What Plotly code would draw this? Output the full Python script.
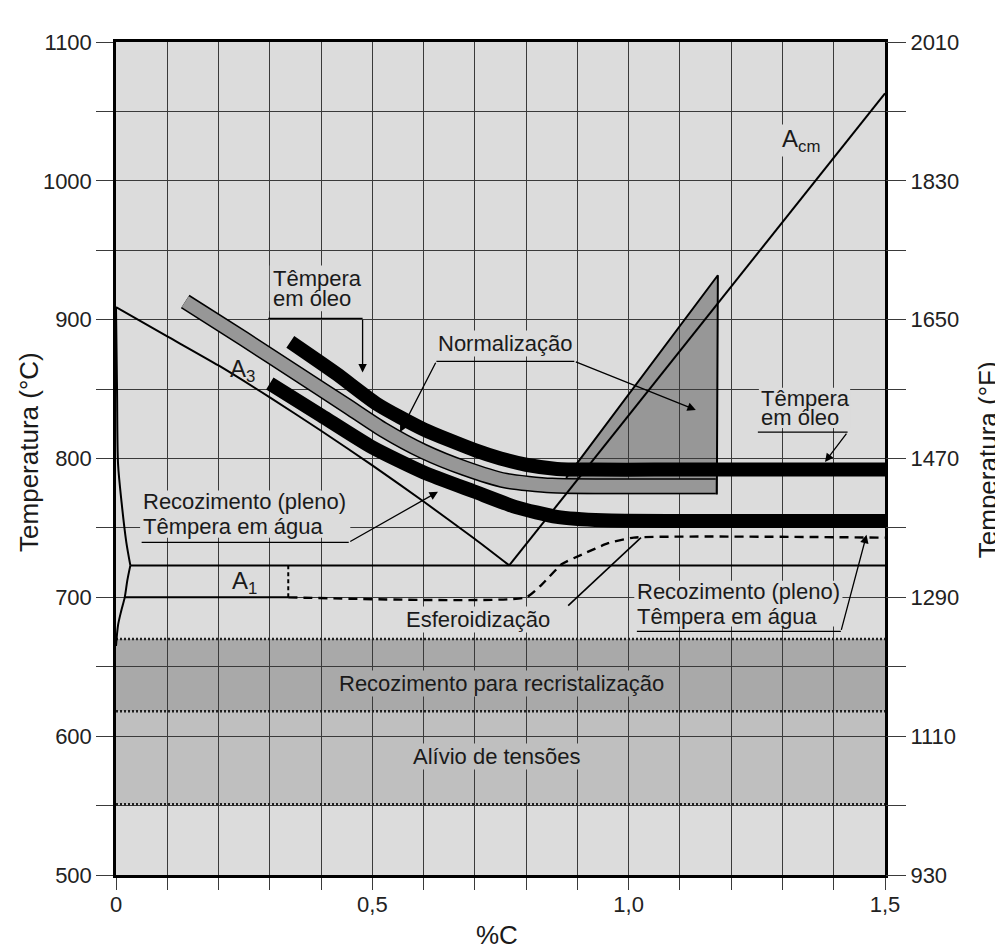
import plotly.graph_objects as go

# ---------------- data ----------------
# Axis ticks
x_tickvals = [0.0, 0.1, 0.2, 0.3, 0.4, 0.5, 0.6, 0.7, 0.8, 0.9, 1.0, 1.1, 1.2, 1.3, 1.4, 1.5]
x_ticktext = ["0", "", "", "", "", "0,5", "", "", "", "", "1,0", "", "", "", "", "1,5"]
y_tickvals = [500, 550, 600, 650, 700, 750, 800, 850, 900, 950, 1000, 1050, 1100]
y_ticktext_C = ["500", "", "600", "", "700", "", "800", "", "900", "", "1000", "", "1100"]
y_ticktext_F = ["930", "", "1110", "", "1290", "", "1470", "", "1650", "", "1830", "", "2010"]

# Phase boundaries
A3_x = [0.0, 0.1, 0.2, 0.3, 0.4, 0.5, 0.6, 0.7, 0.767]
A3_T = [909, 888, 867, 844, 820, 795, 769, 742, 723]
Acm_x = [0.767, 1.5]
Acm_T = [723, 1063]
alpha_x = [0.0, 0.002, 0.004, 0.011, 0.02, 0.028]
alpha_T = [909, 850, 796, 768, 740, 723]
solvus_x = [0.028, 0.022, 0.017, 0.010, 0.004, 0.0]
solvus_T = [723, 712, 700, 690, 680, 665]
A1_x = [0.028, 1.5]
A1_T = [723, 723]
A1low_x = [0.017, 0.336]
A1low_T = [700, 700]
A1vert_x = [0.336, 0.336]
A1vert_T = [700, 723]
sphero_x = [0.336, 0.80, 0.83, 0.87, 0.91, 0.96, 1.01, 1.5]
sphero_T = [700, 700, 709, 724, 731, 739, 743, 743]

# Heat-treatment bands (centre lines)
oil_x = [0.34, 0.43, 0.51, 0.60, 0.70, 0.75, 0.80, 0.86, 0.93, 1.05, 1.5]
oil_T = [884, 861, 839, 821, 806, 800, 795.5, 792.5, 792, 792, 792]
norm_x = [0.135, 0.25, 0.35, 0.45, 0.52, 0.60, 0.68, 0.76, 0.85, 0.95, 1.17]
norm_T = [913, 886, 862, 838, 821, 805, 793, 784, 780.5, 780, 780]
water_x = [0.30, 0.40, 0.50, 0.60, 0.70, 0.78, 0.86, 0.95, 1.1, 1.5]
water_T = [854, 831, 808, 790, 776, 765, 758, 755.5, 755, 755]
tri_x = [0.878, 1.174, 1.172]
tri_T = [786, 932, 774]

# Horizontal treatment ranges
recryst_T = [618, 670]
stress_T = [551, 618]
range_x = [0.0, 1.5]

# Leader lines (underline segments) and arrow tips
oilL_line_x, oilL_line_T, oilL_tip = [0.297, 0.481], [901, 901], (0.481, 862)
normL_line_x, normL_line_T = [0.625, 0.894], [870, 870]
norm_tip1, norm_tip2 = (0.554, 819), (1.131, 835)
oilR_line_x, oilR_line_T, oilR_tip = [1.252, 1.427], [819, 819], (1.383, 797.5)
watL_line_x, watL_line_T, watL_tip = [0.05, 0.454], [739.6, 739.6], (0.628, 776)
watR_line_x, watR_line_T, watR_tip = [1.016, 1.414], [675.5, 675.5], (1.464, 745)
spher_ptr_x, spher_ptr_T = [0.882, 1.024], [694, 743]

# ---------------- styling ----------------
FONT = "Liberation Sans, Arial, Helvetica, sans-serif"
BG = "#dcdcdc"
RECRYST = "#a9a9a9"
STRESS = "#bfbfbf"
GRAYBAND = "#979797"
GRID = "#3a3a3a"

fig = go.Figure()


def line(x, y, color="black", width=2.0, dash="solid", shape="linear", smoothing=1.0):
    fig.add_trace(go.Scatter(
        x=x, y=y, mode="lines",
        line=dict(color=color, width=width, dash=dash, shape=shape, smoothing=smoothing),
        hoverinfo="skip", showlegend=False))


# band range boundaries (dotted)
for T in [recryst_T[1], recryst_T[0], stress_T[0]]:
    line(range_x, [T, T], color="#1e1e1e", width=2.6, dash="2px,2px")

# phase boundaries
line(A3_x, A3_T, width=2, shape="spline", smoothing=0.6)
line(alpha_x, alpha_T, width=2, shape="spline", smoothing=0.8)
line(solvus_x, solvus_T, width=2, shape="spline", smoothing=0.8)
line(A1_x, A1_T, width=2)
line(A1low_x, A1low_T, width=2)
line(A1vert_x, A1vert_T, width=2, dash="4px,3px")
line(sphero_x, sphero_T, width=2.4, dash="9px,6px", shape="spline", smoothing=0.5)
line(spher_ptr_x, spher_ptr_T, width=1.6)

# normalising band (outlined grey)
line(norm_x, norm_T, color="black", width=16, shape="spline", smoothing=0.6)
line(norm_x, norm_T, color=GRAYBAND, width=13, shape="spline", smoothing=0.6)

# triangle outline (fill drawn as shape below grid)
line(tri_x, tri_T, color="black", width=2)

# Acm line
line(Acm_x, Acm_T, width=2)

# black bands
line(oil_x, oil_T, color="black", width=14, shape="spline", smoothing=0.6)
line(water_x, water_T, color="black", width=14, shape="spline", smoothing=0.6)

# leader lines
for lx, lt in [(oilL_line_x, oilL_line_T), (normL_line_x, normL_line_T), (oilR_line_x, oilR_line_T),
               (watL_line_x, watL_line_T), (watR_line_x, watR_line_T)]:
    line(lx, lt, width=1.3)

# dummy trace for right axis
fig.add_trace(go.Scatter(x=[0], y=[500], yaxis="y2", mode="markers", marker=dict(opacity=0),
                         hoverinfo="skip", showlegend=False))

# shapes: ranges and triangle fill (below grid)
shapes = [
    dict(type="rect", xref="x", yref="y", x0=range_x[0], x1=range_x[1], y0=recryst_T[0], y1=recryst_T[1],
         fillcolor=RECRYST, line=dict(width=0), layer="below"),
    dict(type="rect", xref="x", yref="y", x0=range_x[0], x1=range_x[1], y0=stress_T[0], y1=stress_T[1],
         fillcolor=STRESS, line=dict(width=0), layer="below"),
]
tri_path = "M {},{} L {},{} L {},{} L {},{} Z".format(tri_x[0], tri_T[0], tri_x[1], tri_T[1],
                                                     tri_x[2], tri_T[2], tri_x[0], tri_T[2])
shapes.append(dict(type="path", xref="x", yref="y", path=tri_path, fillcolor=GRAYBAND,
                   line=dict(width=0), layer="below"))

# background patches that hide the grid behind two-line labels (drawn under the traces)
for bx0, bx1, by0, by1 in [(0.300, 0.478, 906, 939), (1.254, 1.432, 822, 851),
                           (0.047, 0.457, 743, 777), (1.011, 1.417, 679, 712)]:
    shapes.append(dict(type="rect", xref="x", yref="y", x0=bx0, x1=bx1, y0=by0, y1=by1,
                       fillcolor=BG, line=dict(width=0), layer="between"))

ann = []


def text(t, x, y, xanchor="center", bg=BG, size=22):
    ann.append(dict(text=t, x=x, y=y, xref="x", yref="y", xanchor=xanchor, yanchor="middle",
                    showarrow=False, font=dict(family=FONT, size=size, color="#1a1a1a"),
                    bgcolor=bg, borderpad=0))


def arrow(tail, tip):
    ann.append(dict(text="", x=tip[0], y=tip[1], ax=tail[0], ay=tail[1], xref="x", yref="y",
                    axref="x", ayref="y", showarrow=True, arrowhead=2, arrowsize=1.3,
                    arrowwidth=1.3, arrowcolor="black", standoff=0))


CLEAR = "rgba(0,0,0,0)"
text("Têmpera", 0.304, 930, "left", bg=CLEAR)
text("em óleo", 0.304, 915, "left", bg=CLEAR)
text("Normalização", 0.76, 882.6)
text("Têmpera", 1.257, 843, "left", bg=CLEAR)
text("em óleo", 1.257, 829.7, "left", bg=CLEAR)
text("Recozimento (pleno)", 0.05, 768.8, "left", bg=CLEAR)
text("Têmpera em água", 0.05, 750.8, "left", bg=CLEAR)
text("Recozimento (pleno)", 1.015, 704.2, "left", bg=CLEAR)
text("Têmpera em água", 1.015, 686.5, "left", bg=CLEAR)
text("Esferoidização", 0.707, 683.7)
text("Recozimento para recristalização", 0.752, 637.8, bg=RECRYST)
text("Alívio de tensões", 0.744, 585.6, bg=STRESS)
text("A<sub>3</sub>", 0.247, 863.5, bg=CLEAR, size=24)
text("A<sub>1</sub>", 0.25, 711, bg=CLEAR, size=24)
text("A<sub>cm</sub>", 1.337, 1029, bg=BG, size=24)

arrow((oilL_line_x[1], oilL_line_T[1]), oilL_tip)
arrow((normL_line_x[0], normL_line_T[0]), norm_tip1)
arrow((normL_line_x[1], normL_line_T[1]), norm_tip2)
arrow((oilR_line_x[1], oilR_line_T[1]), oilR_tip)
arrow((watL_line_x[1], watL_line_T[1]), watL_tip)
arrow((watR_line_x[1], watR_line_T[1]), watR_tip)

# axis titles
title_font = dict(family=FONT, size=26, color="#1a1a1a")
ann.append(dict(text="Temperatura (°C)", x=-0.113, y=0.508, xref="paper", yref="paper",
                textangle=-90, showarrow=False, font=title_font, xanchor="center", yanchor="middle"))
ann.append(dict(text="Temperatura (°F)", x=1.134, y=0.498, xref="paper", yref="paper",
                textangle=-90, showarrow=False, font=title_font, xanchor="center", yanchor="middle"))
ann.append(dict(text="%C", x=0.496, y=-0.072, xref="paper", yref="paper",
                showarrow=False, font=title_font, xanchor="center", yanchor="middle"))

tick_font = dict(family=FONT, size=22, color="#222222")

fig.update_layout(
    width=1003, height=948,
    margin=dict(l=107.5, r=125.5, t=33.5, b=80.5),
    paper_bgcolor="white", plot_bgcolor=BG,
    showlegend=False,
    shapes=shapes, annotations=ann,
    xaxis=dict(range=[0, 1.5], tickmode="array", tickvals=x_tickvals, ticktext=x_ticktext,
               ticks="outside", ticklen=12, tickwidth=1, tickcolor=GRID, ticklabelstandoff=-4,
               showgrid=True, gridcolor=GRID, gridwidth=1, zeroline=False,
               showline=True, linecolor="black", linewidth=2.5, mirror=True, tickfont=tick_font),
    yaxis=dict(range=[500, 1100], tickmode="array", tickvals=y_tickvals, ticktext=y_ticktext_C,
               ticks="outside", ticklen=17, tickwidth=1, tickcolor=GRID,
               showgrid=True, gridcolor=GRID, gridwidth=1, zeroline=False,
               showline=True, linecolor="black", linewidth=2.5, mirror=True, tickfont=tick_font),
    yaxis2=dict(range=[500, 1100], overlaying="y", side="right", tickmode="array",
                tickvals=y_tickvals, ticktext=y_ticktext_F, ticks="outside", ticklen=20, tickwidth=1,
                tickcolor=GRID, showgrid=False, zeroline=False, showline=False, tickfont=tick_font),
)

fig.write_html("out.html")
